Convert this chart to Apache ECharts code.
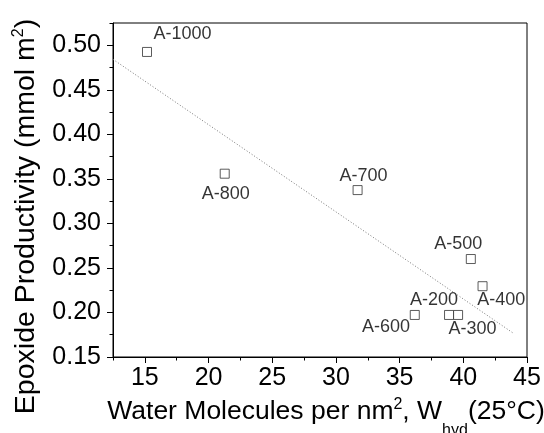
<!DOCTYPE html>
<html><head><meta charset="utf-8">
<script src="https://cdn.jsdelivr.net/npm/echarts@6/dist/echarts.min.js"></script>
<style>html,body{margin:0;padding:0;background:#fff}#c{width:544px;height:433px}</style>
</head><body><div id="c"></div>
<script>
// ---- data ----
const sampleNames  = ['A-1000','A-800','A-700','A-500','A-400','A-600','A-200','A-300'];
const waterPerNm2  = [15.17, 21.27, 31.70, 40.59, 41.51, 36.19, 38.88, 39.59];
const productivity = [0.4925, 0.3558, 0.3374, 0.2600, 0.2295, 0.1972, 0.1972, 0.1972];
const trendX = [12.5, 43.97];
const trendY = [0.4842, 0.1763];
const xMajorTicks = [15, 20, 25, 30, 35, 40, 45];
const xMinorTicks = [12.5, 17.5, 22.5, 27.5, 32.5, 37.5, 42.5];
const yMajorTicks = [0.15, 0.20, 0.25, 0.30, 0.35, 0.40, 0.45, 0.50];
const yMinorTicks = [0.175, 0.225, 0.275, 0.325, 0.375, 0.425, 0.475, 0.525];

// ---- styling ----
const FONT = "'Liberation Sans', Arial, sans-serif";
const labelOffsets = {
  'A-1000': [35.5, -18], 'A-800': [1, 20], 'A-700': [6, -14.5], 'A-500': [-12.5, -15],
  'A-400': [18.6, 14], 'A-200': [-15, -15], 'A-300': [14.4, 14.2], 'A-600': [-28.7, 12.5]
};
const gridRect = {left: 113, right: 17, top: 23, bottom: 76, outerBoundsMode: 'none', containLabel: false};

const points = sampleNames.map((n, i) => ({
  name: n,
  value: [waterPerNm2[i], productivity[i]],
  label: {offset: labelOffsets[n]}
}));

const chart = echarts.init(document.getElementById('c'), null, {renderer: 'canvas'});
const axisCommon = {
  axisLine: {show: true, lineStyle: {color: '#000', width: 1}},
  splitLine: {show: false}
};
chart.setOption({
  animation: false,
  backgroundColor: '#fff',
  grid: [
    Object.assign({show: true, borderColor: '#000', borderWidth: 1, backgroundColor: 'transparent'}, gridRect),
    Object.assign({show: false}, gridRect)
  ],
  xAxis: [
    Object.assign({}, axisCommon, {
      type: 'value', gridIndex: 0, min: 12.5, max: 45, interval: 2.5,
      axisTick: {show: true, customValues: xMajorTicks, length: 6, lineStyle: {color: '#000'}},
      axisLabel: {customValues: xMajorTicks, fontSize: 25, color: '#000', fontFamily: FONT, margin: 9},
      name: '{t|Water Molecules per nm}{sup|2}{t|, W}{sub|hyd}{t|(25°C)}',
      nameLocation: 'middle', nameGap: 28,
      nameTextStyle: {
        fontFamily: FONT, color: '#000', padding: [0, 0, 0, 12],
        rich: {
          t: {fontSize: 26.5, lineHeight: 54, fontFamily: FONT, color: '#000', verticalAlign: 'middle'},
          sup: {fontSize: 16, lineHeight: 16, fontFamily: FONT, color: '#000', verticalAlign: 'middle', padding: [0, 0, 15, 0]},
          sub: {fontSize: 16, lineHeight: 16, fontFamily: FONT, color: '#000', verticalAlign: 'bottom'}
        }
      }
    }),
    {
      type: 'value', gridIndex: 1, min: 12.5, max: 45, interval: 2.5,
      axisLine: {show: false}, splitLine: {show: false}, axisLabel: {show: false},
      axisTick: {show: true, customValues: xMinorTicks, length: 3.5, lineStyle: {color: '#000'}}
    }
  ],
  yAxis: [
    Object.assign({}, axisCommon, {
      type: 'value', gridIndex: 0, min: 0.15, max: 0.525, interval: 0.025,
      axisTick: {show: true, customValues: yMajorTicks, length: 6, lineStyle: {color: '#000'}},
      axisLabel: {customValues: yMajorTicks, fontSize: 25, color: '#000', fontFamily: FONT, margin: 12,
                  formatter: v => v.toFixed(2)},
      name: '{t|Epoxide Productivity (mmol m}{sup|2}{t|)}',
      nameLocation: 'middle', nameRotate: 90, nameGap: 67,
      nameTextStyle: {
        fontFamily: FONT, color: '#000', padding: [0, 53, 0, 0],
        rich: {
          t: {fontSize: 28.5, lineHeight: 34, fontFamily: FONT, color: '#000', verticalAlign: 'middle'},
          sup: {fontSize: 16, lineHeight: 16, fontFamily: FONT, color: '#000', verticalAlign: 'middle', padding: [0, 0, 15, 0]}
        }
      }
    }),
    {
      type: 'value', gridIndex: 1, min: 0.15, max: 0.525, interval: 0.025,
      axisLine: {show: false}, splitLine: {show: false}, axisLabel: {show: false},
      axisTick: {show: true, customValues: yMinorTicks, length: 3.5, lineStyle: {color: '#000'}}
    }
  ],
  series: [
    {
      type: 'line', xAxisIndex: 0, yAxisIndex: 0,
      data: trendX.map((x, i) => [x, trendY[i]]),
      showSymbol: false, symbol: 'none', silent: true, z: 1,
      lineStyle: {color: '#777', width: 1, type: [1, 2]}
    },
    {
      type: 'scatter', xAxisIndex: 0, yAxisIndex: 0, z: 3,
      symbol: 'rect', symbolSize: 9,
      itemStyle: {color: '#fff', borderColor: '#333', borderWidth: 1},
      label: {
        show: true, position: 'inside', formatter: p => p.name,
        fontSize: 18, fontFamily: FONT, color: '#000', align: 'center', verticalAlign: 'middle'
      },
      data: points
    }
  ]
});
</script></body></html>
